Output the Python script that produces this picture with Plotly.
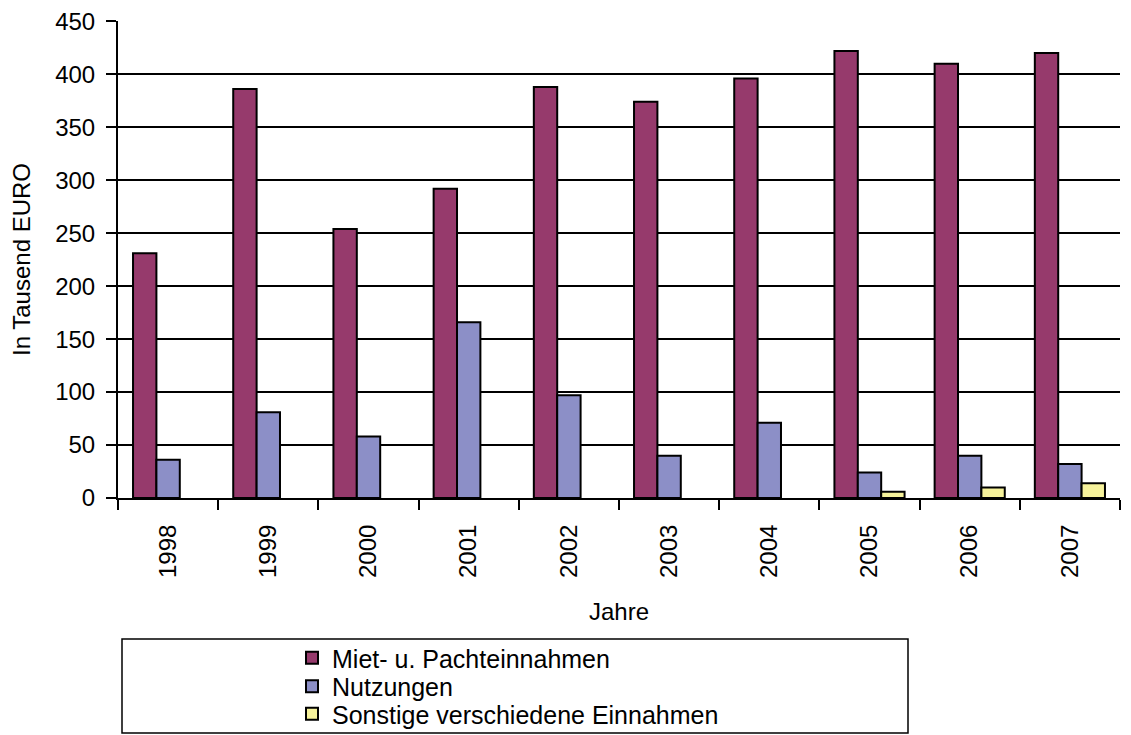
import plotly.graph_objects as go

years = ["1998", "1999", "2000", "2001", "2002", "2003", "2004", "2005", "2006", "2007"]
miet = [231, 386, 254, 292, 388, 374, 396, 422, 410, 420]
nutzungen = [36, 81, 58, 166, 97, 40, 71, 24, 40, 32]
sonstige = [None, None, None, None, None, None, None, 6, 10, 14]

names = ["Miet- u. Pachteinnahmen", "Nutzungen", "Sonstige verschiedene Einnahmen"]
colors = ["#963A6C", "#8C8FC7", "#F6F29B"]
legend_ids = ["legend", "legend2", "legend3"]

FONT = "Liberation Sans, Arial, sans-serif"

OFF = 8  # page body margin offset
W, H = 1131, 735
L, R, T, B = 110, 19, 13, 245
pw = W - L - R
ph = H - T - B
SX0 = L + OFF
SY1 = T + ph + OFF


def px_x(x):
    return (x - SX0) / pw


def px_y(y):
    return (SY1 - y) / ph


fig = go.Figure()
for name, vals, col, lg in zip(names, [miet, nutzungen, sonstige], colors, legend_ids):
    fig.add_trace(go.Bar(
        x=years, y=vals, name=name, legend=lg,
        marker=dict(color=col, line=dict(color="black", width=2)),
    ))

legend_rows = [658, 686.5, 714]
legend_common = dict(
    orientation="v", xanchor="left", yanchor="middle",
    font=dict(size=25, family=FONT),
    bgcolor="rgba(0,0,0,0)", borderwidth=0,
)
legends = {}
for lg, yc in zip(legend_ids, legend_rows):
    legends[lg] = dict(legend_common, x=px_x(292), y=px_y(yc))

fig.update_layout(
    width=W, height=H,
    margin=dict(l=L, r=R, t=T, b=B, autoexpand=False),
    paper_bgcolor="white", plot_bgcolor="white",
    font=dict(family=FONT, size=24, color="black"),
    barmode="group", bargap=0.30, bargroupgap=0,
    showlegend=True,
    shapes=[dict(
        type="rect", xref="paper", yref="paper",
        x0=px_x(122), x1=px_x(908), y0=px_y(639), y1=px_y(733),
        line=dict(color="black", width=1.5), fillcolor="rgba(0,0,0,0)",
    )],
    **legends,
)

fig.update_xaxes(
    type="category", tickangle=-90,
    showline=True, linecolor="black", linewidth=2,
    ticks="outside", ticklen=10, tickwidth=2, tickcolor="black",
    tickson="boundaries", showgrid=False,
    tickfont=dict(size=24, family=FONT),
    ticklabelstandoff=15,
    title=dict(text="Jahre", font=dict(size=24, family=FONT), standoff=26),
)
fig.update_yaxes(
    range=[0, 450.3], tickvals=[0, 50, 100, 150, 200, 250, 300, 350, 400, 450],
    showline=True, linecolor="black", linewidth=2,
    ticks="outside", ticklen=10, tickwidth=2, tickcolor="black",
    showgrid=True, gridcolor="black", gridwidth=1.5,
    zeroline=False,
    tickfont=dict(size=24, family=FONT),
    ticklabelstandoff=6, ticklabeloverflow="allow",
    title=dict(text="In Tausend EURO", font=dict(size=24, family=FONT), standoff=19),
)

fig.write_html("out.html")
